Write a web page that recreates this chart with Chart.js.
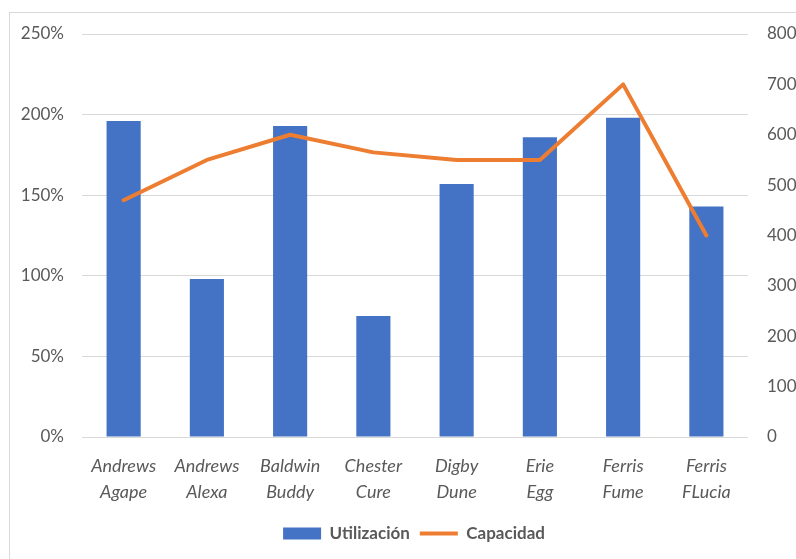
<!DOCTYPE html>
<html>
<head>
<meta charset="utf-8">
<script src="https://cdn.jsdelivr.net/npm/chart.js@4"></script>
<style>
  html, body { margin: 0; padding: 0; background: #ffffff; overflow: hidden; }
  body { width: 796px; height: 559px; position: relative; }
  #frame { position: absolute; left: 9px; top: 12px; width: 808px; height: 560px; border: 1px solid #d9d9d9; }
  #wrap { position: absolute; left: 9px; top: 12px; width: 810px; height: 548px; }
</style>
</head>
<body>
<div id="frame"></div>
<div id="wrap"><canvas id="chart" width="810" height="548"></canvas></div>
<script>
// Products (two-line labels)
const categories = [
  ['Andrews', 'Agape'],
  ['Andrews', 'Alexa'],
  ['Baldwin', 'Buddy'],
  ['Chester', 'Cure'],
  ['Digby', 'Dune'],
  ['Erie', 'Egg'],
  ['Ferris', 'Fume'],
  ['Ferris', 'FLucia']
];
// Utilización (%), left axis
const utilizacion = [196, 98, 193, 75, 157, 186, 198, 143];
// Capacidad (units), right axis
const capacidad = [470, 550, 600, 565, 550, 550, 700, 400];
// Axis ranges
const leftTicks = { min: 0, max: 250, step: 50 };
const rightTicks = { min: 0, max: 800, step: 100 };

const textColor = '#595959';
const family = 'Lato, "Open Sans", sans-serif';

// Fixed axis sizes; no extra vertical padding from tick labels
const fitY = (w) => (scale) => {
  scale.width = w;
  scale.paddingTop = 0;
  scale.paddingBottom = 0;
};

new Chart(document.getElementById('chart'), {
  type: 'bar',
  data: {
    labels: categories,
    datasets: [
      {
        label: 'Utilización',
        data: utilizacion,
        backgroundColor: '#4472C4',
        borderWidth: 0,
        yAxisID: 'y',
        order: 1,
        barPercentage: 1,
        categoryPercentage: 0.41
      },
      {
        type: 'line',
        label: 'Capacidad',
        data: capacidad,
        borderColor: '#ED7D31',
        backgroundColor: '#ED7D31',
        borderWidth: 4,
        borderCapStyle: 'round',
        borderJoinStyle: 'round',
        pointRadius: 0,
        pointHoverRadius: 0,
        tension: 0,
        yAxisID: 'y1',
        order: 0
      }
    ]
  },
  options: {
    responsive: false,
    animation: false,
    devicePixelRatio: 1,
    layout: { padding: { top: 22, bottom: 8, left: 0, right: 0 } },
    plugins: {
      tooltip: { enabled: false },
      legend: {
        position: 'bottom',
        labels: {
          color: textColor,
          font: { family: family, size: 17, weight: 'bold' },
          usePointStyle: true,
          pointStyleWidth: 38,
          boxHeight: 12,
          padding: 10,
          sort: (a, b) => a.datasetIndex - b.datasetIndex,
          generateLabels: (chart) => {
            const items = Chart.defaults.plugins.legend.labels.generateLabels(chart);
            return items.map((it) => {
              if (it.datasetIndex === 0) {
                it.pointStyle = 'rect';
                it.lineWidth = 0;
              } else {
                it.pointStyle = 'line';
                it.lineWidth = 4;
                it.strokeStyle = '#ED7D31';
              }
              return it;
            });
          }
        }
      }
    },
    scales: {
      x: {
        grid: { display: false },
        border: { display: false },
        ticks: {
          color: textColor,
          font: { family: family, size: 18, style: 'italic', lineHeight: 1.45 },
          padding: 8,
          maxRotation: 0,
          autoSkip: false
        },
        afterFit: (scale) => { scale.height = 78; }
      },
      y: {
        position: 'left',
        min: leftTicks.min,
        max: leftTicks.max,
        grid: { color: '#d9d9d9', lineWidth: 1, drawTicks: false },
        border: { display: false },
        ticks: {
          stepSize: leftTicks.step,
          color: textColor,
          font: { family: family, size: 17 },
          padding: 18,
          callback: (v) => v + '%'
        },
        afterFit: fitY(73)
      },
      y1: {
        position: 'right',
        min: rightTicks.min,
        max: rightTicks.max,
        grid: { display: false, drawTicks: false },
        border: { display: false },
        ticks: {
          stepSize: rightTicks.step,
          color: textColor,
          font: { family: family, size: 17 },
          padding: 19
        },
        afterFit: fitY(71)
      }
    }
  }
});
</script>
</body>
</html>
